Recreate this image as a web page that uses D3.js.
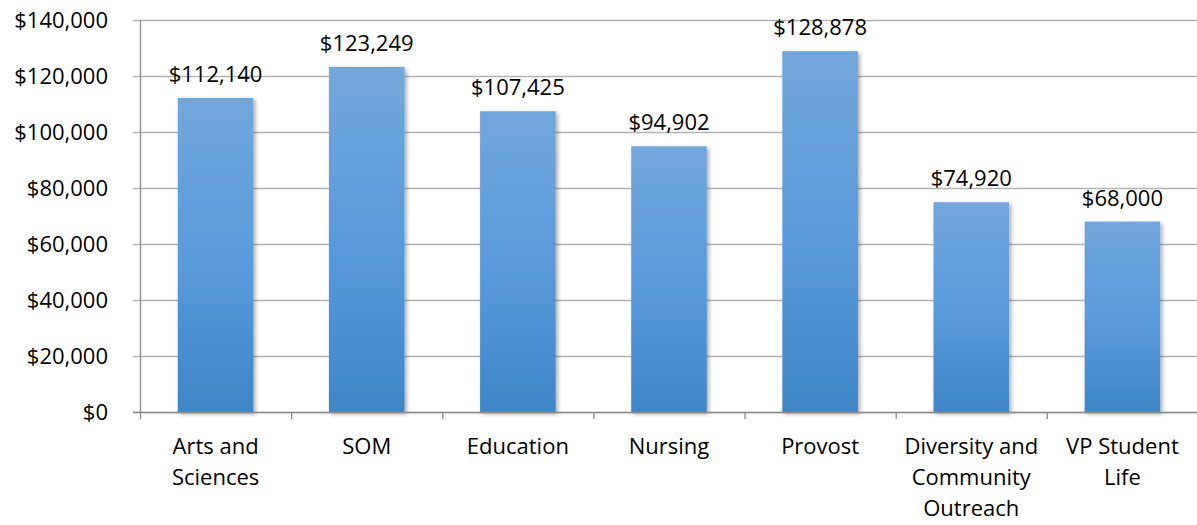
<!DOCTYPE html>
<html>
<head>
<meta charset="utf-8">
<script src="https://cdn.jsdelivr.net/npm/d3@7"></script>
<style>
  body { margin: 0; background: #fff; }
  text { font-family: "Open Sans", "Liberation Sans", sans-serif; fill: #000; }
</style>
</head>
<body>
<svg width="1197" height="525"></svg>
<script>
// data
var categories = ["Arts and Sciences", "SOM", "Education", "Nursing", "Provost", "Diversity and Community Outreach", "VP Student Life"];
var salaries = [112140, 123249, 107425, 94902, 128878, 74920, 68000];
var yTicks = [0, 20000, 40000, 60000, 80000, 100000, 120000, 140000];

var data = categories.map(function(c, i) { return {name: c, value: salaries[i]}; });

var svg = d3.select("svg"),
    margin = {top: 20, right: 0, bottom: 113, left: 140},
    width = 1198 - margin.left,
    height = +svg.attr("height") - margin.top - margin.bottom;

var x = d3.scaleBand().domain(categories).range([0, width]).paddingInner(0.5).paddingOuter(0.25),
    y = d3.scaleLinear().domain([0, 140000]).range([height, 0]);

var defs = svg.append("defs");
var grad = defs.append("linearGradient").attr("id", "barGrad")
    .attr("x1", 0).attr("y1", 0).attr("x2", 0).attr("y2", 1);
grad.append("stop").attr("offset", "0%").attr("stop-color", "#72a7dc");
grad.append("stop").attr("offset", "50%").attr("stop-color", "#5a9bdb");
grad.append("stop").attr("offset", "100%").attr("stop-color", "#3e86c7");

var shadow = defs.append("filter").attr("id", "shadow")
    .attr("x", "-10%").attr("y", "-5%").attr("width", "130%").attr("height", "115%");
shadow.append("feDropShadow").attr("dx", 2).attr("dy", 2).attr("stdDeviation", 2)
    .attr("flood-color", "#000").attr("flood-opacity", 0.35);

var g = svg.append("g").attr("transform", "translate(" + margin.left + "," + margin.top + ")");

// gridlines
g.selectAll(".grid")
  .data(yTicks)
  .enter().append("line")
    .attr("class", "grid")
    .attr("x1", -7).attr("x2", width)
    .attr("y1", function(d) { return y(d) + 0.5; })
    .attr("y2", function(d) { return y(d) + 0.5; })
    .attr("stroke", "#b3b3b3").attr("stroke-width", 1.3);

// y tick labels
g.selectAll(".ylab")
  .data(yTicks)
  .enter().append("text")
    .attr("class", "ylab")
    .attr("x", -32)
    .attr("y", function(d) { return y(d); })
    .attr("dy", "0.35em")
    .attr("text-anchor", "end")
    .style("font-size", "22px")
    .text(d3.format("$,"));

// bars
g.selectAll(".bar")
  .data(data)
  .enter().append("rect")
    .attr("class", "bar")
    .attr("x", function(d) { return x(d.name); })
    .attr("y", function(d) { return y(d.value); })
    .attr("width", x.bandwidth())
    .attr("height", function(d) { return height - y(d.value); })
    .attr("fill", "url(#barGrad)")
    .attr("filter", "url(#shadow)");

// value labels
g.selectAll(".val")
  .data(data)
  .enter().append("text")
    .attr("class", "val")
    .attr("x", function(d) { return x(d.name) + x.bandwidth() / 2; })
    .attr("y", function(d) { return y(d.value) - 16; })
    .attr("text-anchor", "middle")
    .style("font-size", "22px")
    .text(function(d) { return d3.format("$,")(d.value); });

// axes lines
g.append("line")
    .attr("x1", 0.5).attr("x2", 0.5).attr("y1", 0).attr("y2", height)
    .attr("stroke", "#8c8c8c").attr("stroke-width", 1.3);
g.append("line")
    .attr("x1", -7).attr("x2", width).attr("y1", height + 0.5).attr("y2", height + 0.5)
    .attr("stroke", "#8c8c8c").attr("stroke-width", 1.3);

// category ticks between bands
var step = x.step();
g.selectAll(".xtick")
  .data(d3.range(categories.length + 1))
  .enter().append("line")
    .attr("x1", function(i) { return i * step + 0.5; })
    .attr("x2", function(i) { return i * step + 0.5; })
    .attr("y1", height).attr("y2", height + 7)
    .attr("stroke", "#8c8c8c").attr("stroke-width", 1.3);

// category labels, wrapped
var xl = g.selectAll(".xlab")
  .data(data)
  .enter().append("text")
    .attr("class", "xlab")
    .attr("text-anchor", "middle")
    .style("font-size", "22px")
    .attr("x", function(d) { return x(d.name) + x.bandwidth() / 2; })
    .attr("y", height + 42);

xl.each(function(d) {
  var t = d3.select(this), words = d.name.split(" "), line = [], lines = [];
  var probe = t.append("tspan");
  words.forEach(function(w) {
    line.push(w);
    probe.text(line.join(" "));
    if (probe.node().getComputedTextLength() > 145 && line.length > 1) {
      line.pop();
      lines.push(line.join(" "));
      line = [w];
    }
  });
  lines.push(line.join(" "));
  probe.remove();
  lines.forEach(function(l, i) {
    t.append("tspan")
      .attr("x", x(d.name) + x.bandwidth() / 2)
      .attr("dy", i === 0 ? 0 : 31)
      .text(l);
  });
});
</script>
</body>
</html>
